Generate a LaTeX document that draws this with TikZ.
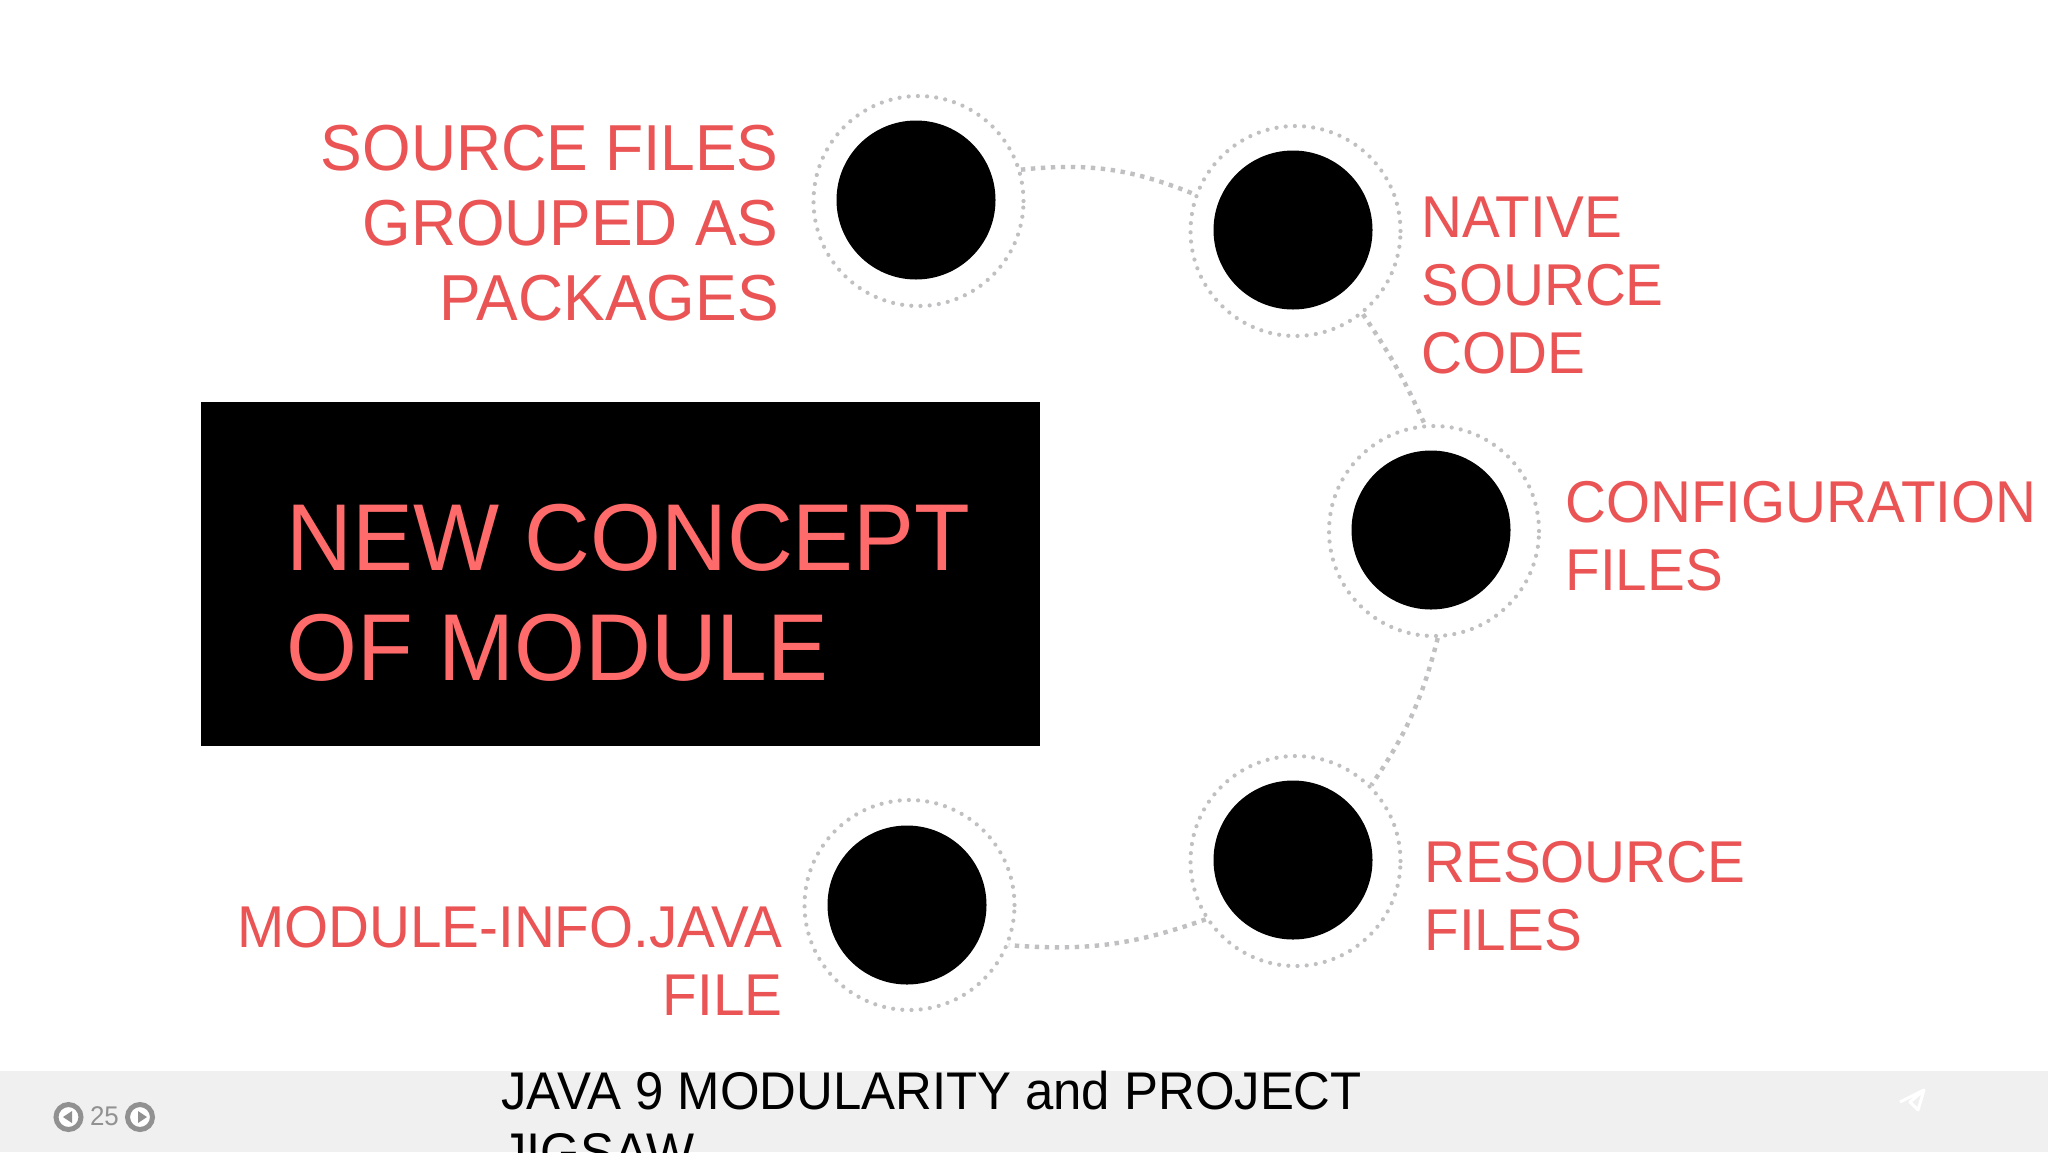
\documentclass[tikz,border=0pt]{standalone}
\usepackage{fontspec}
\setmainfont[FakeStretch=0.96]{Liberation Sans}
\definecolor{labelred}{HTML}{EA5455}
\definecolor{titlered}{HTML}{FF6B6B}
\definecolor{dotgray}{HTML}{C0BFC1}
\definecolor{barback}{HTML}{F1F0F1}
\definecolor{navgray}{HTML}{929192}
\tikzset{
    blob/.style={circle,fill=black,inner sep=0pt,minimum size=79.5pt},
    ring/.style={circle,draw=dotgray,line width=2.1pt,line cap=round,dash pattern=on 0pt off 4.6pt,inner sep=0pt,minimum size=105pt},
    link/.style={draw=dotgray,line width=2.2pt,dash pattern=on 2.2pt off 2.8pt},
    bigtext/.style={text=labelred,inner sep=0pt,font=\fontsize{32.5}{37.5}\selectfont},
    smalltext/.style={text=labelred,inner sep=0pt,font=\fontsize{29.5}{34}\selectfont},
    navbtn/.style={circle,draw=navgray,fill=white,line width=2.5pt,inner sep=0pt,minimum size=12.5pt},
}
\begin{document}
\begin{tikzpicture}[x=0.5pt,y=-0.5pt]
    \useasboundingbox (0,0) rectangle (2048,1152);
    \fill[white] (0,0) rectangle (2048,1152);
    \fill[barback] (0,1071) rectangle (2048,1152);
    \node[fill=black,minimum width=419.5pt,minimum height=172pt,inner sep=0pt,anchor=north west] (titlebox) at (201,402) {};
    \node[text=titlered,inner sep=0pt,anchor=north west,align=left,font=\fontsize{47.5}{55}\selectfont] (titletext) at (286,504) {NEW CONCEPT\\OF MODULE};

    \node[ring] (sourcering) at (918.5,201) {};
    \node[ring] (nativering) at (1295.5,231) {};
    \node[ring] (configring) at (1434,531) {};
    \node[ring] (resourcering) at (1295.5,861) {};
    \node[ring] (modulering) at (909.5,905) {};
    \node[blob] (sourcedot) at (916,200) {};
    \node[blob] (nativedot) at (1293,230) {};
    \node[blob] (configdot) at (1431,530) {};
    \node[blob] (resourcedot) at (1293,860) {};
    \node[blob] (moduledot) at (907,905) {};

    \draw[link] (sourcering.17) to[bend left=14] (nativering.160);
    \draw[link] (nativering.-51) to[bend left=5] (configring.95);
    \draw[link] (configring.-88) to[bend left=10] (resourcering.45);
    \draw[link] (resourcering.213) to[bend left=12] (modulering.-22);

    \node[bigtext,anchor=north east,align=right] (sourcetext) at (779,124.5) {SOURCE FILES\\GROUPED AS\\PACKAGES};
    \node[smalltext,anchor=north west,align=left] (nativetext) at (1421,196.5) {NATIVE\\SOURCE\\CODE};
    \node[smalltext,anchor=north west,align=left] (configtext) at (1565,481) {CONFIGURATION\\FILES};
    \node[smalltext,anchor=north west,align=left] (resourcetext) at (1424,841) {RESOURCE\\FILES};
    \node[smalltext,anchor=north east,align=right] (moduletext) at (783,906) {MODULE-INFO.JAVA\\FILE};

    \node[navbtn] (prevbtn) at (68.5,1117) {};
    \node[navbtn] (nextbtn) at (140,1117) {};
    \fill[navgray] (63,1117) -- (72,1111) -- (72,1123) -- cycle;
    \fill[navgray] (147,1117) -- (138,1111) -- (138,1123) -- cycle;
    \node[text=navgray,inner sep=0pt,font=\fontsize{13.5}{15}\selectfont] (pagenum) at (104.5,1116) {25};
    \draw[white,line width=1.5pt,line join=round] (1900,1102) -- (1924,1090) -- (1918,1110) -- (1910,1102) -- (1924,1090);

    \node[text=black,inner sep=0pt,anchor=north west,align=left,font=\fontsize{26.5}{30.5}\selectfont] (footertext) at (501,1071) {JAVA 9 MODULARITY and PROJECT\\JIGSAW};
\end{tikzpicture}
\end{document}
